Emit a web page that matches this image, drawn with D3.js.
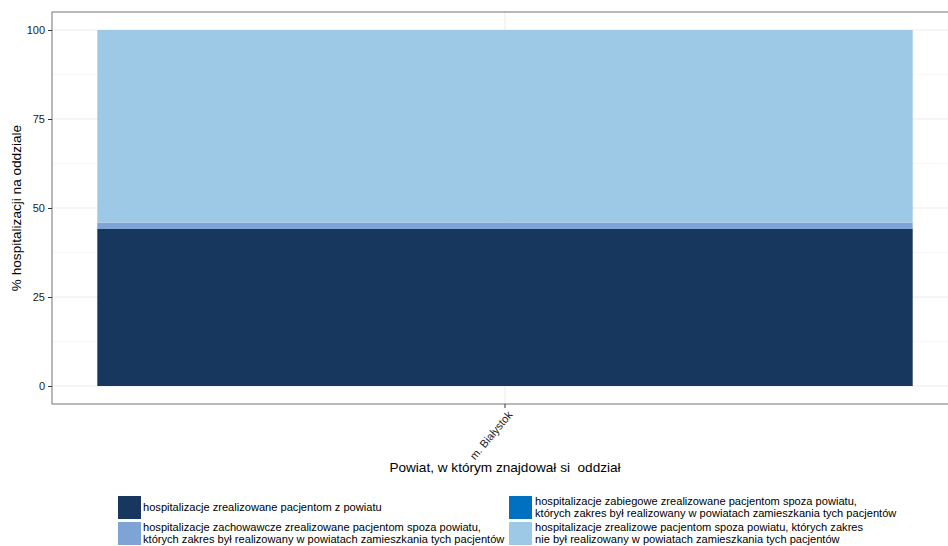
<!DOCTYPE html>
<html><head><meta charset="utf-8">
<script src="https://cdn.jsdelivr.net/npm/d3@7"></script>
<style>body{margin:0;background:#fff}svg{display:block;font-family:"Liberation Sans",Arial,sans-serif}</style>
</head><body>
<svg id="c" width="948" height="546"></svg>
<script>
const categories = ["m. Białystok"];
const seriesNames = [
  "hospitalizacje zrealizowane pacjentom z powiatu",
  "hospitalizacje zachowawcze zrealizowane pacjentom spoza powiatu,\nktórych zakres był realizowany w powiatach zamieszkania tych pacjentów",
  "hospitalizacje zabiegowe zrealizowane pacjentom spoza powiatu,\nktórych zakres był realizowany w powiatach zamieszkania tych pacjentów",
  "hospitalizacje zrealizowe pacjentom spoza powiatu, których zakres\nnie był realizowany w powiatach zamieszkania tych pacjentów"
];
const seriesKeys = ["z_powiatu", "zachowawcze", "zabiegowe", "niezrealizowane"];
const valuesZPowiatu = [44.1];
const valuesZachowawcze = [1.8];
const valuesZabiegowe = [0];
const valuesNiezrealizowane = [54.1];
const seriesColors = ["#17375e", "#7ea3d5", "#0070c0", "#9dc8e6"];
const yTicks = [0, 25, 50, 75, 100];
const yMinor = [12.5, 37.5, 62.5, 87.5];
const yTitle = "% hospitalizacji na oddziale";
const xTitle = "Powiat, w którym znajdował si  oddział";

const svg = d3.select("#c");
const P = {l: 52, t: 12, r: 958, b: 404};

const data = categories.map((c, i) => ({
  cat: c,
  z_powiatu: valuesZPowiatu[i],
  zachowawcze: valuesZachowawcze[i],
  zabiegowe: valuesZabiegowe[i],
  niezrealizowane: valuesNiezrealizowane[i]
}));

const x = d3.scaleBand().domain(categories).range([P.l, P.r]).paddingInner(0.1).paddingOuter(0.049);
const y = d3.scaleLinear().range([P.b, P.t])
  .domain([0 - (404 - 386) / 3.56, 100 + (30 - 12) / 3.56]);

// grid
const g = svg.append("g");
g.selectAll(".minor").data(yMinor).join("line")
  .attr("x1", P.l).attr("x2", P.r).attr("y1", d => y(d)).attr("y2", d => y(d))
  .attr("stroke", "#f2f2f2").attr("stroke-width", 0.6);
g.selectAll(".major").data(yTicks).join("line")
  .attr("x1", P.l).attr("x2", P.r).attr("y1", d => y(d)).attr("y2", d => y(d))
  .attr("stroke", "#ebebeb").attr("stroke-width", 1.1);
g.selectAll(".vmajor").data(categories).join("line")
  .attr("x1", d => x(d) + x.bandwidth() / 2).attr("x2", d => x(d) + x.bandwidth() / 2)
  .attr("y1", P.t).attr("y2", P.b)
  .attr("stroke", "#ebebeb").attr("stroke-width", 1.1);

// bars
const stack = d3.stack().keys(seriesKeys)(data);
svg.append("g").selectAll("g").data(stack).join("g")
  .attr("fill", (d, i) => seriesColors[i])
  .selectAll("rect").data(d => d).join("rect")
  .attr("x", d => x(d.data.cat))
  .attr("width", x.bandwidth())
  .attr("y", d => y(d[1]))
  .attr("height", d => y(d[0]) - y(d[1]));

// panel border
svg.append("rect").attr("x", P.l).attr("y", P.t).attr("width", P.r - P.l).attr("height", P.b - P.t)
  .attr("fill", "none").attr("stroke", "#7f7f7f").attr("stroke-width", 1.1);

// y axis
const ya = svg.append("g").attr("transform", `translate(${P.l},0)`)
  .call(d3.axisLeft(y).tickValues(yTicks).tickSize(4).tickPadding(3));
ya.select(".domain").remove();
ya.selectAll(".tick line").attr("stroke", "#333").attr("stroke-width", 1);
ya.selectAll(".tick text").attr("fill", "#222").attr("font-size", 11).attr("font-family", "Liberation Sans, Arial, sans-serif");

// x axis
const xa = svg.append("g").attr("transform", `translate(0,${P.b})`)
  .call(d3.axisBottom(x).tickSize(4).tickPadding(2));
xa.select(".domain").remove();
xa.selectAll(".tick line").attr("stroke", "#333");
xa.selectAll(".tick text").attr("fill", "#222").attr("font-size", 11)
  .attr("font-family", "Liberation Sans, Arial, sans-serif")
  .attr("text-anchor", "end").attr("dy", 0).attr("y", 0)
  .attr("transform", "translate(8,11) rotate(-50)");

// titles
svg.append("text").attr("x", 505).attr("y", 472).attr("text-anchor", "middle")
  .attr("font-size", 13.6).attr("fill", "#000").style("white-space", "pre").text(xTitle);
svg.append("text").attr("transform", `translate(21,208) rotate(-90)`).attr("text-anchor", "middle")
  .attr("font-size", 13.6).attr("fill", "#000").text(yTitle);

// legend
const legPos = [
  {kx: 118, ky: 496, tx: 143},
  {kx: 118, ky: 522, tx: 143},
  {kx: 509, ky: 496, tx: 535},
  {kx: 509, ky: 522, tx: 535}
];
const leg = svg.append("g");
seriesNames.forEach((name, i) => {
  const p = legPos[i];
  leg.append("rect").attr("x", p.kx).attr("y", p.ky).attr("width", 23).attr("height", 23)
    .attr("fill", seriesColors[i]);
  const lines = name.split("\n");
  const cy = p.ky + 11.5;
  const t = leg.append("text").attr("font-size", 11.1).attr("fill", "#000");
  lines.forEach((ln, j) => {
    t.append("tspan").attr("x", p.tx)
      .attr("y", cy + (j - (lines.length - 1) / 2) * 12 + 3.9).text(ln);
  });
});
</script>
</body></html>
